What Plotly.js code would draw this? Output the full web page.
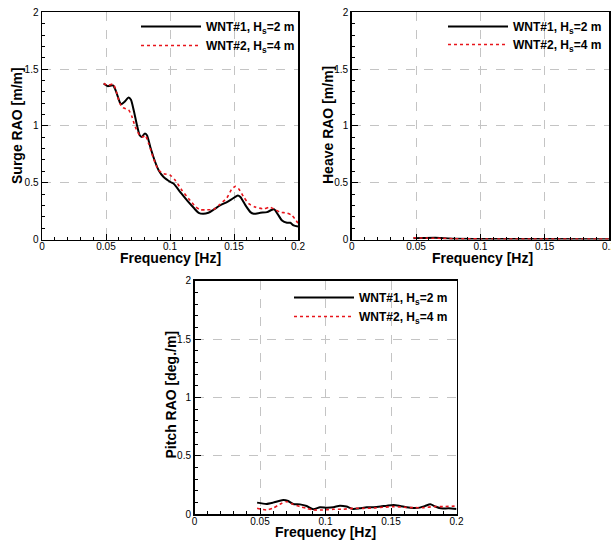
<!DOCTYPE html>
<html>
<head>
<meta charset="utf-8">
<script src="https://cdn.plot.ly/plotly-3.0.1.min.js"></script>
<style>html,body{margin:0;padding:0;background:#fff;}#chart{width:611px;height:540px;}</style>
</head>
<body>
<div id="chart"></div>
<script>
// ---- Surge RAO ----
const surgeFreq1 = [0.0482,0.0513,0.0555,0.0573,0.0607,0.0617,0.0643,0.0677,0.0695,0.0716,0.0742,0.0763,0.078,0.0802,0.082,0.0846,0.0885,0.0911,0.095,0.1003,0.1029,0.108,0.1133,0.1185,0.1224,0.1258,0.130,0.134,0.139,0.1445,0.148,0.153,0.155,0.159,0.1628,0.1654,0.1706,0.1758,0.1797,0.1815,0.184,0.1875,0.1914,0.194,0.1966,0.2];
const surgeRao1  = [1.374,1.35,1.356,1.32,1.21,1.19,1.21,1.25,1.23,1.14,1.006,0.918,0.903,0.932,0.918,0.815,0.68,0.61,0.55,0.506,0.49,0.418,0.344,0.279,0.235,0.226,0.235,0.262,0.30,0.33,0.353,0.388,0.374,0.30,0.241,0.226,0.235,0.241,0.262,0.265,0.226,0.168,0.147,0.147,0.124,0.115];
const surgeFreq2 = [0.0482,0.0513,0.0555,0.0573,0.0607,0.0633,0.0677,0.0703,0.0729,0.0763,0.0789,0.0807,0.0833,0.0872,0.0911,0.095,0.1003,0.1042,0.1094,0.1146,0.1198,0.1237,0.1289,0.134,0.139,0.1445,0.148,0.151,0.1536,0.1576,0.1615,0.1667,0.1732,0.178,0.181,0.186,0.1914,0.1953,0.2];
const surgeRao2  = [1.374,1.356,1.368,1.33,1.20,1.16,1.14,1.08,0.99,0.918,0.903,0.918,0.845,0.71,0.61,0.58,0.565,0.52,0.432,0.359,0.291,0.262,0.262,0.265,0.309,0.368,0.438,0.468,0.447,0.374,0.315,0.285,0.27,0.285,0.27,0.241,0.232,0.212,0.144];

// ---- Heave RAO ----
const heaveFreq1 = [0.048,0.055,0.065,0.072,0.08,0.1,0.15,0.2];
const heaveRao1  = [0.012,0.013,0.015,0.012,0.006,0.005,0.004,0.003];
const heaveFreq2 = [0.048,0.06,0.07,0.08,0.1,0.15,0.2];
const heaveRao2  = [0.015,0.012,0.010,0.006,0.005,0.004,0.004];

// ---- Pitch RAO ----
const pitchFreq1 = [0.0478,0.0549,0.060,0.0677,0.0715,0.0753,0.0805,0.0856,0.0907,0.0958,0.1009,0.106,0.111,0.116,0.121,0.126,0.1315,0.1367,0.142,0.147,0.152,0.157,0.162,0.167,0.172,0.176,0.180,0.184,0.188,0.194,0.2];
const pitchRao1  = [0.10,0.089,0.10,0.123,0.114,0.088,0.085,0.071,0.043,0.06,0.057,0.06,0.074,0.066,0.046,0.051,0.06,0.06,0.066,0.074,0.08,0.071,0.06,0.054,0.057,0.071,0.085,0.066,0.051,0.051,0.046];
const pitchFreq2 = [0.0478,0.0549,0.060,0.065,0.070,0.0753,0.0805,0.0856,0.0907,0.098,0.106,0.113,0.121,0.129,0.137,0.144,0.152,0.16,0.167,0.175,0.183,0.190,0.2];
const pitchRao2  = [0.051,0.037,0.054,0.085,0.108,0.086,0.066,0.051,0.037,0.037,0.043,0.043,0.051,0.051,0.054,0.06,0.066,0.06,0.057,0.057,0.066,0.066,0.071];

const seriesNames = ['<b>WNT#1, H<sub>s</sub>=2 m</b>', '<b>WNT#2, H<sub>s</sub>=4 m</b>'];
const xTitle = '<b>Frequency [Hz]</b>';
const yTitles = ['<b>Surge RAO [m/m]</b>', '<b>Heave RAO [m/m]</b>', '<b>Pitch RAO [deg./m]</b>'];

const FONT = 'Arial, "Liberation Sans", sans-serif';
const black = {color:'#000000', width:2, dash:'solid', shape:'spline', smoothing:0.6};
const red = {color:'#e8141b', width:1.6, dash:'dot', shape:'spline', smoothing:0.6};

function tr(x, y, name, line, xa, ya, leg) {
  return {x:x, y:y, name:name, type:'scatter', mode:'lines', line:line, xaxis:xa, yaxis:ya, legend:leg};
}

const data = [
  tr(surgeFreq1, surgeRao1, seriesNames[0], black, 'x', 'y', 'legend'),
  tr(surgeFreq2, surgeRao2, seriesNames[1], red, 'x', 'y', 'legend2'),
  tr(heaveFreq1, heaveRao1, seriesNames[0], black, 'x2', 'y2', 'legend3'),
  tr(heaveFreq2, heaveRao2, seriesNames[1], red, 'x2', 'y2', 'legend4'),
  tr(pitchFreq1, pitchRao1, seriesNames[0], black, 'x3', 'y3', 'legend5'),
  tr(pitchFreq2, pitchRao2, seriesNames[1], red, 'x3', 'y3', 'legend6')
];

function xax(domain, anchor) {
  return {
    domain:domain, anchor:anchor, range:[0,0.2], tick0:0, dtick:0.05,
    ticks:'inside', ticklen:6, tickwidth:1, tickcolor:'#000',
    showline:true, linecolor:'#000', linewidth:1.5, mirror:true,
    showgrid:true, gridcolor:'#c4c4c4', griddash:'dash', gridwidth:1, zeroline:false,
    tickfont:{family:FONT, size:10, color:'#000'}, ticklabeloverflow:'allow', ticklabelstandoff:-3,
    minor:{dtick:0.01, tick0:0, ticks:'inside', ticklen:3, tickcolor:'#000', tickwidth:1, showgrid:false},
    automargin:false, fixedrange:true
  };
}
function yax(domain, anchor) {
  return {
    domain:domain, anchor:anchor, range:[0,2], tick0:0, dtick:0.5,
    ticks:'inside', ticklen:6, tickwidth:1, tickcolor:'#000',
    showline:true, linecolor:'#000', linewidth:1.5, mirror:true,
    showgrid:true, gridcolor:'#c4c4c4', griddash:'dash', gridwidth:1, zeroline:false,
    tickfont:{family:FONT, size:10, color:'#000'}, ticklabeloverflow:'allow',
    minor:{dtick:0.1, tick0:0, ticks:'inside', ticklen:3, tickcolor:'#000', tickwidth:1, showgrid:false},
    automargin:false, fixedrange:true
  };
}
const W = 611, H = 540;
function leg(px, py) {
  return {x:px/W, y:1-py/H, xanchor:'left', yanchor:'top', bgcolor:'rgba(0,0,0,0)', borderwidth:0,
    font:{family:FONT, size:12, color:'#000'}, itemwidth:60, tracegroupgap:0, itemclick:false};
}
function title(text, px, py, angle) {
  return {text:text, x:px/W, y:1-py/H, xref:'paper', yref:'paper', showarrow:false,
    xanchor:'center', yanchor:'middle', textangle:angle, font:{family:FONT, size:14, color:'#000'}};
}

const layout = {
  width:W, height:H, margin:{l:0, r:0, t:0, b:0},
  paper_bgcolor:'#ffffff', plot_bgcolor:'#ffffff', showlegend:true,
  xaxis: xax([42/W, 298/W], 'y'),
  yaxis: yax([1-239.5/H, 1-12.3/H], 'x'),
  xaxis2: xax([351.7/W, 609/W], 'y2'),
  yaxis2: yax([1-239.5/H, 1-12.3/H], 'x2'),
  xaxis3: xax([194.5/W, 456.5/W], 'y3'),
  yaxis3: yax([1-514.3/H, 1-280.7/H], 'x3'),
  legend: leg(136, 12),
  legend2: leg(136, 31),
  legend3: leg(443, 12),
  legend4: leg(443, 30),
  legend5: leg(289, 283),
  legend6: leg(289, 302),
  annotations: [
    title(xTitle, 170, 258, 0),
    title(xTitle, 482, 258, 0),
    title(xTitle, 325.5, 532, 0),
    title(yTitles[0], 17, 126, -90),
    title(yTitles[1], 328, 125, -90),
    title(yTitles[2], 170.5, 395, -90)
  ]
};

Plotly.newPlot('chart', data, layout, {displayModeBar:false, staticPlot:true});
</script>
</body>
</html>
